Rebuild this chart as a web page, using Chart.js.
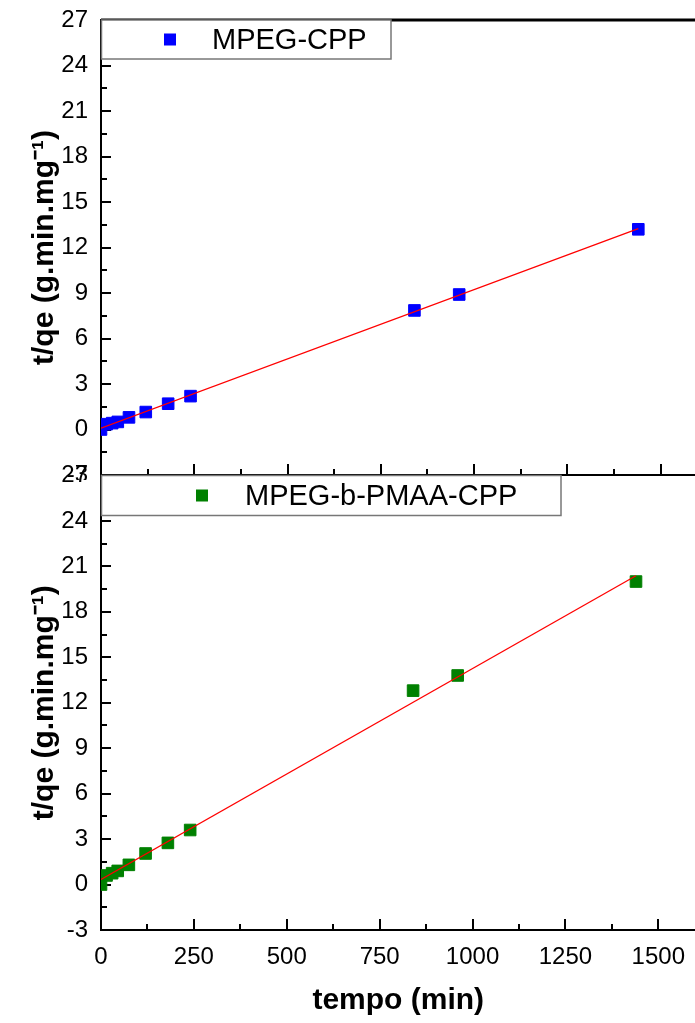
<!DOCTYPE html>
<html>
<head>
<meta charset="utf-8">
<script src="https://cdn.jsdelivr.net/npm/chart.js@4.4.0/dist/chart.umd.min.js"></script>
<style>
html, body { margin: 0; padding: 0; background: #fff; overflow: hidden; width: 695px; height: 1023px; }
#graphiques { position: relative; width: 695px; height: 1023px; overflow: hidden; }
canvas { position: absolute; left: 0; }
#graphHaut { top: 0; }
#graphBas { top: 460px; }
</style>
</head>
<body>
<div id="graphiques">
  <canvas id="graphHaut" width="698" height="480"></canvas>
  <canvas id="graphBas" width="698" height="563"></canvas>
</div>
<script>
// temps de contact (min) et t/qe pour les deux adsorbants
var tempo = [0, 15, 30, 45, 75, 120, 180, 240, 840, 960, 1440];
var tqeCPP = [0, 0.35, 0.42, 0.5, 0.8, 1.15, 1.7, 2.2, 7.85, 8.9, 13.2];
var tqePMAA = [0, 0.6, 0.75, 0.9, 1.3, 2.05, 2.75, 3.6, 12.8, 13.8, 20.0];

// droites d'ajustement (pseudo-second ordre)
var ajusteX = [0, 1440];
var ajusteCPP = [0.09, 13.24];
var ajustePMAA = [0.33, 20.38];

var ticksX = [0, 250, 500, 750, 1000, 1250, 1500];
var ticksY = [-3, 0, 3, 6, 9, 12, 15, 18, 21, 24, 27];

var police = "'Liberation Sans', Arial, sans-serif";

function points(xs, ys) {
  var res = [];
  for (let i = 0; i < xs.length; i++) res.push({x: xs[i], y: ys[i]});
  return res;
}

/* graduations vers l'interieur + cadre du haut */
var pluginGraduations = {
  id: 'graduations',
  beforeDatasetsDraw: function(chart) {
    var ctx = chart.ctx, ca = chart.chartArea;
    var sx = chart.scales.x, sy = chart.scales.y;
    ctx.save();
    ctx.strokeStyle = '#000';
    ctx.lineWidth = 2;
    ctx.beginPath();
    for (let v = ticksY[0]; v <= ticksY[ticksY.length - 1]; v += 1.5) {
      let y = Math.round(sy.getPixelForValue(v));
      let l = (v % 3 === 0) ? 10 : 6;
      ctx.moveTo(ca.left, y);
      ctx.lineTo(ca.left + l, y);
    }
    for (let v = 125; v <= 1500; v += 125) {
      let x = Math.round(sx.getPixelForValue(v));
      let l = (v % 250 === 0) ? 11 : 6;
      ctx.moveTo(x, ca.bottom);
      ctx.lineTo(x, ca.bottom - l);
    }
    ctx.stroke();
    if (chart.options.plugins.graduations.cadreHaut) {
      ctx.lineWidth = 3;
      ctx.beginPath();
      ctx.moveTo(ca.left, ca.top);
      ctx.lineTo(ca.right, ca.top);
      ctx.stroke();
    }
    ctx.restore();
  }
};

/* legende dans un cadre gris, collee en haut a gauche */
var pluginLegende = {
  id: 'legende',
  afterDraw: function(chart, args, opts) {
    var ctx = chart.ctx, ca = chart.chartArea;
    var ds = chart.data.datasets[1];
    ctx.save();
    ctx.fillStyle = '#fff';
    ctx.fillRect(ca.left, ca.top, opts.largeur, opts.hauteur);
    ctx.strokeStyle = '#777';
    ctx.lineWidth = 1.5;
    ctx.strokeRect(ca.left + 0.5, ca.top, opts.largeur - 0.5, opts.hauteur);
    ctx.fillStyle = ds.backgroundColor;
    ctx.fillRect(opts.xMarque - 6, ca.top + opts.hauteur / 2 - 6, 12, 12);
    ctx.fillStyle = '#000';
    ctx.font = '29px ' + police;
    ctx.textBaseline = 'middle';
    ctx.fillText(ds.label, opts.xTexte, ca.top + opts.hauteur / 2 + 1);
    ctx.restore();
  }
};

function options(bas, legende) {
  return {
    responsive: false,
    animation: false,
    layout: { autoPadding: false, padding: { top: bas ? 15.5 : 20, left: 0, right: 0, bottom: 0 } },
    plugins: {
      legend: { display: false },
      tooltip: { enabled: false },
      graduations: { cadreHaut: !bas },
      legende: legende
    },
    scales: {
      x: {
        type: 'linear', min: 0, max: 1600,
        afterBuildTicks: function(s) { s.ticks = ticksX.map(v => ({value: v})); },
        afterFit: function(s) { s.height = bas ? 93 : 5; },
        grid: { display: false, drawTicks: false },
        border: { display: true, color: '#000', width: 2 },
        ticks: {
          display: bas, padding: 13, color: '#000', font: { family: police, size: 24 },
          callback: function(v) { return String(v); }
        },
        title: {
          display: bas, text: 'tempo (min)', color: '#000',
          font: { family: police, size: 30, weight: 'bold' }, padding: { top: 0, bottom: 4 }
        }
      },
      y: {
        type: 'linear', min: -3, max: 27,
        afterBuildTicks: function(s) { s.ticks = ticksY.map(v => ({value: v})); },
        // largeur fixe, et pas de marge auto pour les etiquettes 27 / -3
        afterFit: function(s) { s.width = 101; s.paddingTop = 0; s.paddingBottom = 0; },
        grid: { display: false, drawTicks: false },
        border: { display: true, color: '#000', width: 2 },
        ticks: { padding: 13, color: '#000', font: { family: police, size: 24 } },
        title: {
          display: true, text: 't/qe (g.min.mg\u207B\u00B9)', color: '#000',
          font: { family: police, size: 30, weight: 'bold' }, padding: { top: 27, bottom: 0 }
        }
      }
    }
  };
}

function donnees(serie, ajuste, nom, couleur) {
  return {
    datasets: [
      {
        type: 'line', label: 'ajuste', data: points(ajusteX, ajuste),
        borderColor: '#ff0000', borderWidth: 1.3, pointRadius: 0, fill: false
      },
      {
        type: 'scatter', label: nom, data: points(tempo, serie),
        backgroundColor: couleur, borderColor: couleur, borderWidth: 1,
        pointStyle: 'rect', pointRadius: 8.2, pointHoverRadius: 8.2
      }
    ]
  };
}

new Chart(document.getElementById('graphHaut'), {
  type: 'scatter',
  data: donnees(tqeCPP, ajusteCPP, 'MPEG-CPP', '#0000ff'),
  options: options(false, { largeur: 290, hauteur: 39, xMarque: 170, xTexte: 212 }),
  plugins: [pluginGraduations, pluginLegende]
});

new Chart(document.getElementById('graphBas'), {
  type: 'scatter',
  data: donnees(tqePMAA, ajustePMAA, 'MPEG-b-PMAA-CPP', '#008000'),
  options: options(true, { largeur: 460, hauteur: 40, xMarque: 202, xTexte: 245 }),
  plugins: [pluginGraduations, pluginLegende]
});
</script>
</body>
</html>
